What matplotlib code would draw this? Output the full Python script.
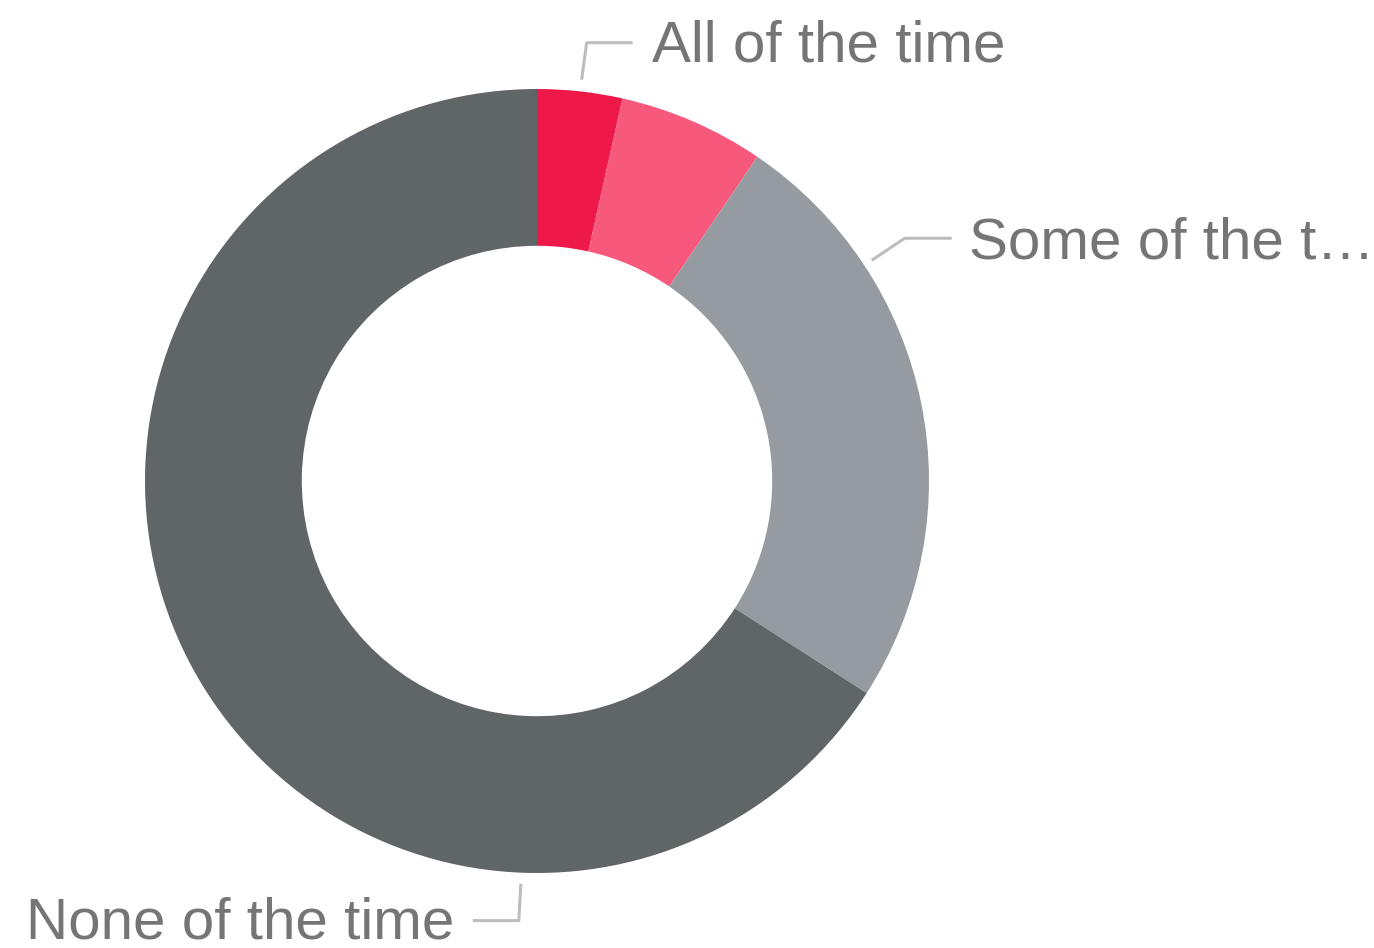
import matplotlib.pyplot as plt
import numpy as np

plt.rcParams["font.family"] = ["Liberation Sans", "DejaVu Sans"]

# share of responses, clockwise from 12 o'clock
categories = ["All of the time", "Most of the time", "Some of the time", "None of the time"]
shares = [3.5, 6.0, 24.6, 65.9]
shown_labels = ["All of the time", None, "Some of the t\u2026", "None of the time"]
colors = ["#EE1849", "#F7597D", "#959BA1", "#606568"]

# label layout (pixel offsets, y up): leader start angle, elbow, end, text anchor
R = 392.0
label_layout = [
    dict(angle=6.35, r=1.03, elbow=(5, 37), end=(51, 37), text=(70, 18), ha="left"),
    None,
    dict(angle=56.6, r=1.023, elbow=(33, 22), end=(80, 22), text=(97, 2), ha="left"),
    dict(angle=182.3, r=1.028, elbow=(-2, -37), end=(-48, -37), text=(-66, -55), ha="right"),
]

fig = plt.figure(figsize=(13.74, 9.48), dpi=100)
ax = fig.add_axes([0, 0, 1, 1])
cx, cy = 537, 481

ax.pie(shares, colors=colors, startangle=90, counterclock=False, radius=1.0,
       wedgeprops=dict(width=0.40, edgecolor="none", linewidth=0))

ax.set_xlim(-cx / R, (1374 - cx) / R)
ax.set_ylim(-(948 - cy) / R, cy / R)
ax.set_aspect("equal")
ax.axis("off")

for lab, lay in zip(shown_labels, label_layout):
    if lab is None or lay is None:
        continue
    a = np.radians(lay["angle"])
    x0 = lay["r"] * np.sin(a)
    y0 = lay["r"] * np.cos(a)
    ex, ey = lay["elbow"]
    nx, ny = lay["end"]
    xs = [x0, x0 + ex / R, x0 + nx / R]
    ys = [y0, y0 + ey / R, y0 + ny / R]
    ax.plot(xs, ys, color="#BDBDBD", lw=2.2, solid_capstyle="butt", clip_on=False)
    tx, ty = lay["text"]
    ax.text(x0 + tx / R, y0 + ty / R, lab, ha=lay["ha"], va="baseline",
            fontsize=42, color="#757575")

fig.savefig("out.png", dpi=100)
